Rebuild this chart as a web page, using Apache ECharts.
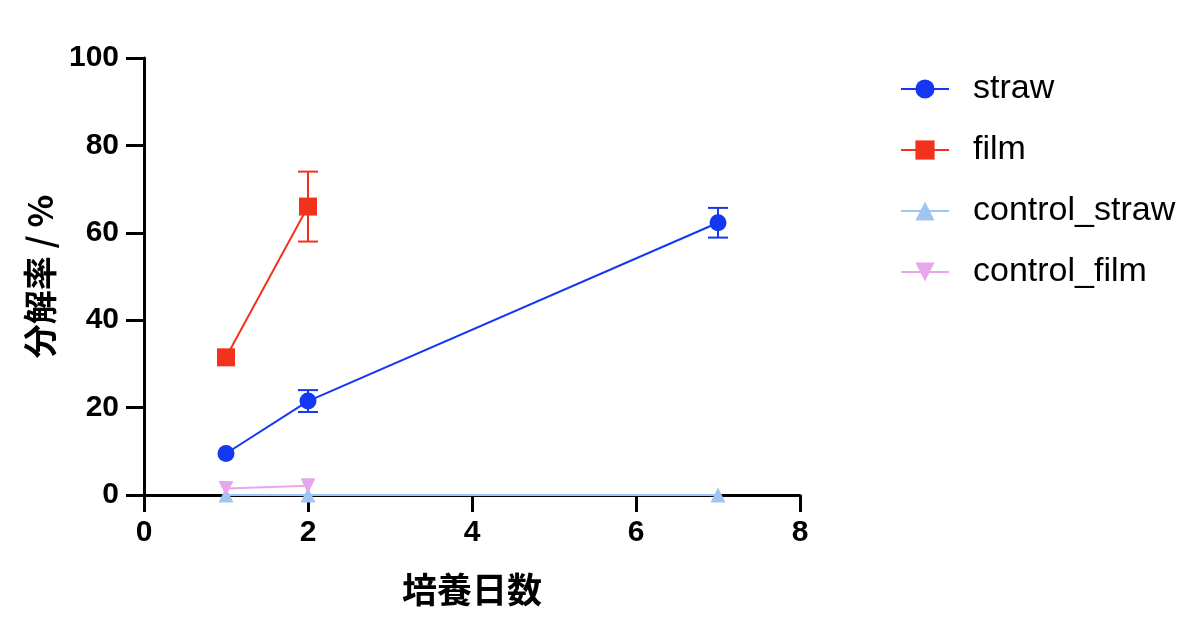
<!DOCTYPE html>
<html>
<head>
<meta charset="utf-8">
<script src="https://cdn.jsdelivr.net/npm/echarts@6/dist/echarts.min.js"></script>
<style>html,body{margin:0;padding:0;background:#fff;}#c{width:1200px;height:618px;}</style>
</head>
<body>
<div id="c"></div>
<script>
const strawDays = [1, 2, 7];
const strawMean = [9.5, 21.5, 62.3];
const strawErr = [0, 2.5, 3.4];
const filmDays = [1, 2];
const filmMean = [31.5, 66.0];
const filmErr = [0, 8.0];
const controlStrawDays = [1, 2, 7];
const controlStrawMean = [0, 0, 0];
const controlFilmDays = [1, 2];
const controlFilmMean = [1.5, 2.1];
const xTicks = [0, 2, 4, 6, 8];
const yTicks = [0, 20, 40, 60, 80, 100];

const C_STRAW = '#1437f2';
const C_FILM = '#f3321c';
const C_CSTRAW = '#9fc6f2';
const C_CFILM = '#e8a6ec';

function pairs(xs, ys) { return xs.map((x, i) => [x, ys[i]]); }
function errData(xs, ys, es) {
  return xs.map((x, i) => [x, ys[i] - es[i], ys[i] + es[i]]).filter((d, i) => es[i] > 0);
}
function errSeries(data, color) {
  return {
    type: 'custom',
    data: data,
    encode: { x: 0, y: [1, 2] },
    z: 1,
    silent: true,
    renderItem: function (params, api) {
      const x = api.value(0);
      const lo = api.coord([x, api.value(1)]);
      const hi = api.coord([x, api.value(2)]);
      const hw = 10;
      const st = { stroke: color, lineWidth: 2 };
      return {
        type: 'group',
        children: [
          { type: 'line', shape: { x1: lo[0], y1: lo[1], x2: hi[0], y2: hi[1] }, style: st },
          { type: 'line', shape: { x1: lo[0] - hw, y1: lo[1], x2: lo[0] + hw, y2: lo[1] }, style: st },
          { type: 'line', shape: { x1: hi[0] - hw, y1: hi[1], x2: hi[0] + hw, y2: hi[1] }, style: st }
        ]
      };
    }
  };
}

const chart = echarts.init(document.getElementById('c'));
const tickFont = { fontFamily: 'Liberation Sans', fontWeight: 'bold', fontSize: 30, color: '#000' };
chart.setOption({
  animation: false,
  backgroundColor: '#fff',
  grid: { left: 144, right: 400, top: 58, bottom: 123, containLabel: false },
  xAxis: {
    type: 'value', min: 0, max: 8, interval: 2,
    name: '培養日数', nameLocation: 'middle', nameGap: 77,
    nameTextStyle: { fontFamily: 'Noto Sans CJK JP', fontWeight: 'bold', fontSize: 35, color: '#000' },
    axisLine: { onZero: false, lineStyle: { color: '#000', width: 3 } },
    axisTick: { show: true, inside: false, length: 17, lineStyle: { color: '#000', width: 3 } },
    axisLabel: Object.assign({ margin: 23, formatter: v => xTicks.includes(v) ? String(v) : '' }, tickFont),
    splitLine: { show: false }
  },
  yAxis: {
    type: 'value', min: 0, max: 100, interval: 20,
    name: '分解率 / %', nameLocation: 'middle', nameGap: 87,
    nameTextStyle: { fontFamily: 'Noto Sans CJK JP', fontWeight: 'bold', fontSize: 34, color: '#000' },
    axisLine: { show: true, onZero: false, lineStyle: { color: '#000', width: 3 } },
    axisTick: { show: true, inside: false, length: 18, lineStyle: { color: '#000', width: 3 } },
    axisLabel: Object.assign({ margin: 25, formatter: v => yTicks.includes(v) ? String(v) : '' }, tickFont),
    splitLine: { show: false }
  },
  legend: {
    orient: 'vertical', left: 895, top: 67,
    itemWidth: 48, itemHeight: 24, itemGap: 27,
    textStyle: { fontFamily: 'Liberation Sans', fontSize: 34, color: '#000', padding: [0, 0, 0, 19] },
    data: ['straw', 'film', 'control_straw', 'control_film']
  },
  series: [
    errSeries(errData(strawDays, strawMean, strawErr), C_STRAW),
    errSeries(errData(filmDays, filmMean, filmErr), C_FILM),
    {
      name: 'control_straw', type: 'line', data: pairs(controlStrawDays, controlStrawMean),
      symbol: 'triangle', symbolSize: 15, clip: false, z: 3,
      itemStyle: { color: C_CSTRAW }, lineStyle: { color: C_CSTRAW, width: 2 }
    },
    {
      name: 'control_film', type: 'line', data: pairs(controlFilmDays, controlFilmMean),
      symbol: 'triangle', symbolRotate: 180, symbolSize: 15, clip: false, z: 3,
      itemStyle: { color: C_CFILM }, lineStyle: { color: C_CFILM, width: 2 }
    },
    {
      name: 'straw', type: 'line', data: pairs(strawDays, strawMean),
      symbol: 'circle', symbolSize: 17, clip: false, z: 4,
      itemStyle: { color: C_STRAW }, lineStyle: { color: C_STRAW, width: 2 }
    },
    {
      name: 'film', type: 'line', data: pairs(filmDays, filmMean),
      symbol: 'rect', symbolSize: 18, clip: false, z: 4,
      itemStyle: { color: C_FILM }, lineStyle: { color: C_FILM, width: 2 }
    }
  ]
});
</script>
</body>
</html>
